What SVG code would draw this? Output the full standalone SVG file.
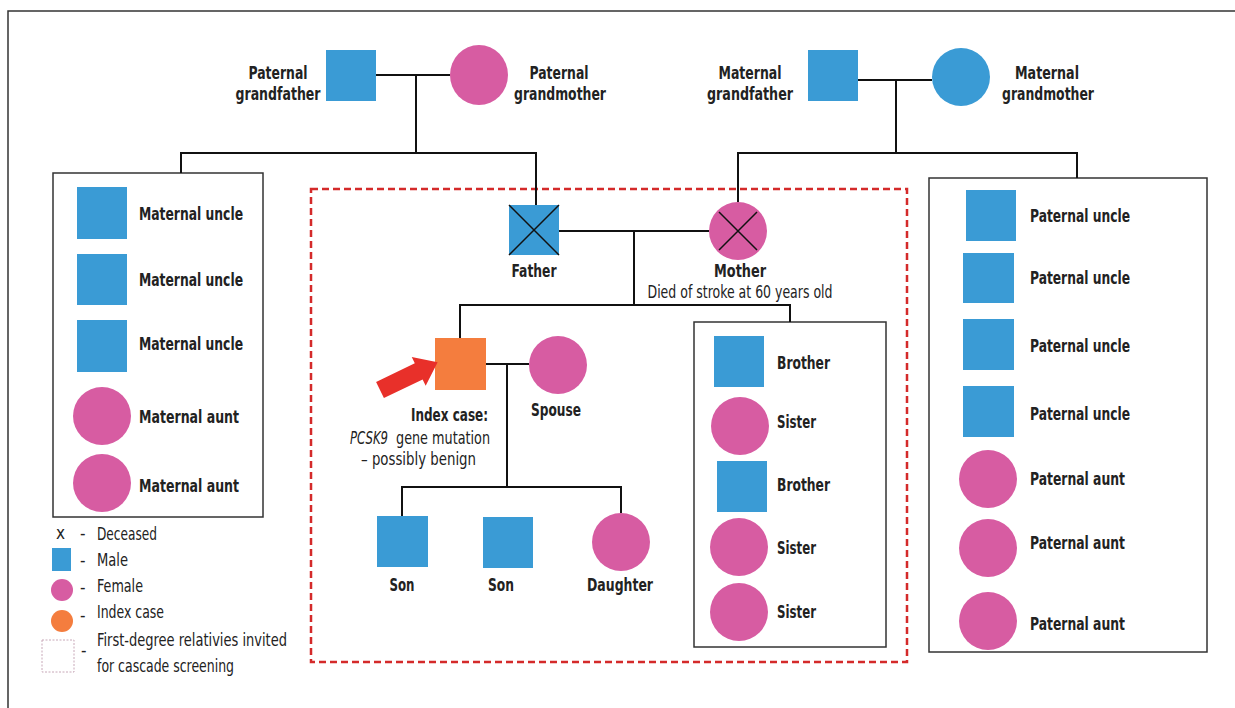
<svg xmlns="http://www.w3.org/2000/svg" width="1235" height="708" viewBox="0 0 1235 708">
<style>
.m{fill:#3a9bd5}
.f{fill:#d75ca2}
.ln{fill:none;stroke:#111;stroke-width:2}
.box{fill:#fff;stroke:#333;stroke-width:1.5}
.x{stroke:#111;stroke-width:1.5}
text{font-family:"DejaVu Sans Condensed","Liberation Sans",sans-serif;fill:#222;font-size:17px}
.b{font-weight:bold;font-size:18px}
.c{text-anchor:middle}
</style>
<rect width="1235" height="708" fill="#fff"/>
<path d="M8,708 V11 H1235" fill="none" stroke="#333" stroke-width="1.5"/>
<g id="boxes">
<rect class="box" x="53" y="173" width="210" height="344"/>
<rect class="box" x="929" y="178" width="278" height="474"/>
<rect class="box" x="694" y="322" width="192" height="325"/>
<rect x="311" y="189" width="596" height="473" fill="none" stroke="#d42a2a" stroke-width="2.5" stroke-dasharray="7,4"/>
</g>
<g id="connectors">
<path class="ln" d="M376,75 H450 M416,75 V153 M181,173 V153 H536 V205"/>
<path class="ln" d="M858,80 H932 M896,80 V153 M738,202 V153 H1077 V178"/>
<path class="ln" d="M559,231 H709 M634,231 V305 M460,338 V305 H790 V322"/>
<path class="ln" d="M486,364 H529 M507,364 V487 M402,516 V487 H621 V513"/>
</g>
<g id="paternal-grandfather"><rect class="m" x="326" y="50" width="50" height="51"/><text class="b c" x="278" y="79" textLength="59" lengthAdjust="spacingAndGlyphs">Paternal</text><text class="b c" x="278" y="100" textLength="85" lengthAdjust="spacingAndGlyphs">grandfather</text></g>
<g id="paternal-grandmother"><ellipse class="f" cx="479" cy="75" rx="29" ry="30"/><text class="b c" x="559" y="79" textLength="59" lengthAdjust="spacingAndGlyphs">Paternal</text><text class="b c" x="560" y="100" textLength="92" lengthAdjust="spacingAndGlyphs">grandmother</text></g>
<g id="maternal-grandfather"><rect class="m" x="808" y="50" width="50" height="51"/><text class="b c" x="750" y="79" textLength="63" lengthAdjust="spacingAndGlyphs">Maternal</text><text class="b c" x="750" y="100" textLength="86" lengthAdjust="spacingAndGlyphs">grandfather</text></g>
<g id="maternal-grandmother"><ellipse class="m" cx="961" cy="77" rx="29" ry="29"/><text class="b c" x="1047" y="79" textLength="64" lengthAdjust="spacingAndGlyphs">Maternal</text><text class="b c" x="1048" y="100" textLength="92" lengthAdjust="spacingAndGlyphs">grandmother</text></g>

<g id="left-siblings">
<rect class="m" x="77" y="187" width="50" height="52"/><text class="b" x="139" y="220" textLength="104" lengthAdjust="spacingAndGlyphs">Maternal uncle</text>
<rect class="m" x="77" y="254" width="50" height="51"/><text class="b" x="139" y="286" textLength="104" lengthAdjust="spacingAndGlyphs">Maternal uncle</text>
<rect class="m" x="77" y="320" width="50" height="52"/><text class="b" x="139" y="350" textLength="104" lengthAdjust="spacingAndGlyphs">Maternal uncle</text>
<circle class="f" cx="102" cy="416" r="29"/><text class="b" x="139" y="423" textLength="100" lengthAdjust="spacingAndGlyphs">Maternal aunt</text>
<circle class="f" cx="102" cy="483" r="29"/><text class="b" x="139" y="492" textLength="100" lengthAdjust="spacingAndGlyphs">Maternal aunt</text>
</g>

<g id="right-siblings">
<rect class="m" x="966" y="190" width="50" height="51"/><text class="b" x="1030" y="222" textLength="100" lengthAdjust="spacingAndGlyphs">Paternal uncle</text>
<rect class="m" x="963" y="253" width="51" height="50"/><text class="b" x="1030" y="284" textLength="100" lengthAdjust="spacingAndGlyphs">Paternal uncle</text>
<rect class="m" x="963" y="319" width="51" height="51"/><text class="b" x="1030" y="352" textLength="100" lengthAdjust="spacingAndGlyphs">Paternal uncle</text>
<rect class="m" x="963" y="386" width="51" height="51"/><text class="b" x="1030" y="420" textLength="100" lengthAdjust="spacingAndGlyphs">Paternal uncle</text>
<circle class="f" cx="988" cy="479" r="29"/><text class="b" x="1030" y="485" textLength="95" lengthAdjust="spacingAndGlyphs">Paternal aunt</text>
<circle class="f" cx="988" cy="548" r="29"/><text class="b" x="1030" y="549" textLength="95" lengthAdjust="spacingAndGlyphs">Paternal aunt</text>
<circle class="f" cx="988" cy="621" r="29"/><text class="b" x="1030" y="630" textLength="95" lengthAdjust="spacingAndGlyphs">Paternal aunt</text>
</g>

<g id="father"><rect class="m" x="509" y="205" width="50" height="50"/><path class="x" d="M509,205 L559,255 M559,205 L509,255"/><text class="b c" x="534" y="277" textLength="45" lengthAdjust="spacingAndGlyphs">Father</text></g>
<g id="mother"><circle class="f" cx="738" cy="231" r="29"/><path class="x" d="M719,212 L757,250 M757,212 L719,250"/><text class="b c" x="740" y="277" textLength="52" lengthAdjust="spacingAndGlyphs">Mother</text><text class="c" x="740" y="298" textLength="185" lengthAdjust="spacingAndGlyphs">Died of stroke at 60 years old</text></g>

<g id="siblings">
<rect class="m" x="714" y="336" width="50" height="51"/><text class="b" x="777" y="369" textLength="53" lengthAdjust="spacingAndGlyphs">Brother</text>
<circle class="f" cx="740" cy="426" r="29"/><text class="b" x="777" y="428" textLength="39" lengthAdjust="spacingAndGlyphs">Sister</text>
<rect class="m" x="717" y="461" width="50" height="51"/><text class="b" x="777" y="491" textLength="53" lengthAdjust="spacingAndGlyphs">Brother</text>
<circle class="f" cx="739" cy="547" r="29"/><text class="b" x="777" y="554" textLength="39" lengthAdjust="spacingAndGlyphs">Sister</text>
<circle class="f" cx="739" cy="612" r="29"/><text class="b" x="777" y="618" textLength="39" lengthAdjust="spacingAndGlyphs">Sister</text>
</g>

<g id="index-case">
<rect x="435" y="338" width="51" height="52" fill="#f47d3e"/>
<polygon points="0,-9 43,-9 43,-16 64,0 43,16 43,9 0,9" fill="#e8302a" transform="translate(380,390) rotate(-25.8)"/>
<text class="b" x="411" y="421" textLength="77" lengthAdjust="spacingAndGlyphs">Index case:</text>
<text x="350" y="444" font-style="italic" textLength="38" lengthAdjust="spacingAndGlyphs">PCSK9</text>
<text x="396" y="444" textLength="94" lengthAdjust="spacingAndGlyphs">gene mutation</text>
<text x="361" y="465" textLength="115" lengthAdjust="spacingAndGlyphs">– possibly benign</text>
</g>
<g id="spouse"><circle class="f" cx="558" cy="365" r="29"/><text class="b c" x="556" y="416" textLength="50" lengthAdjust="spacingAndGlyphs">Spouse</text></g>
<g id="son1"><rect class="m" x="377" y="516" width="51" height="51"/><text class="b c" x="402" y="591" textLength="25" lengthAdjust="spacingAndGlyphs">Son</text></g>
<g id="son2"><rect class="m" x="483" y="517" width="50" height="51"/><text class="b c" x="501" y="591" textLength="26" lengthAdjust="spacingAndGlyphs">Son</text></g>
<g id="daughter"><circle class="f" cx="621" cy="542" r="29"/><text class="b c" x="620" y="591" textLength="66" lengthAdjust="spacingAndGlyphs">Daughter</text></g>

<g id="legend">
<text x="56" y="539" font-size="15">x</text><text x="80" y="539">-</text><text x="97" y="540" textLength="60" lengthAdjust="spacingAndGlyphs">Deceased</text>
<rect class="m" x="52" y="548" width="19" height="23"/><text x="80" y="566">-</text><text x="97" y="566" textLength="31" lengthAdjust="spacingAndGlyphs">Male</text>
<circle class="f" cx="62" cy="590" r="11"/><text x="80" y="593">-</text><text x="97" y="592" textLength="46" lengthAdjust="spacingAndGlyphs">Female</text>
<circle cx="62" cy="621" r="11" fill="#f47d3e"/><text x="80" y="621">-</text><text x="97" y="618" textLength="67" lengthAdjust="spacingAndGlyphs">Index case</text>
<rect x="42" y="640" width="32" height="32" fill="none" stroke="#c8a8b8" stroke-width="1" stroke-dasharray="2,1.5"/><text x="81" y="656">-</text>
<text x="97" y="646" textLength="190" lengthAdjust="spacingAndGlyphs">First-degree relativies invited</text>
<text x="97" y="672" textLength="137" lengthAdjust="spacingAndGlyphs">for cascade screening</text>
</g>
</svg>
